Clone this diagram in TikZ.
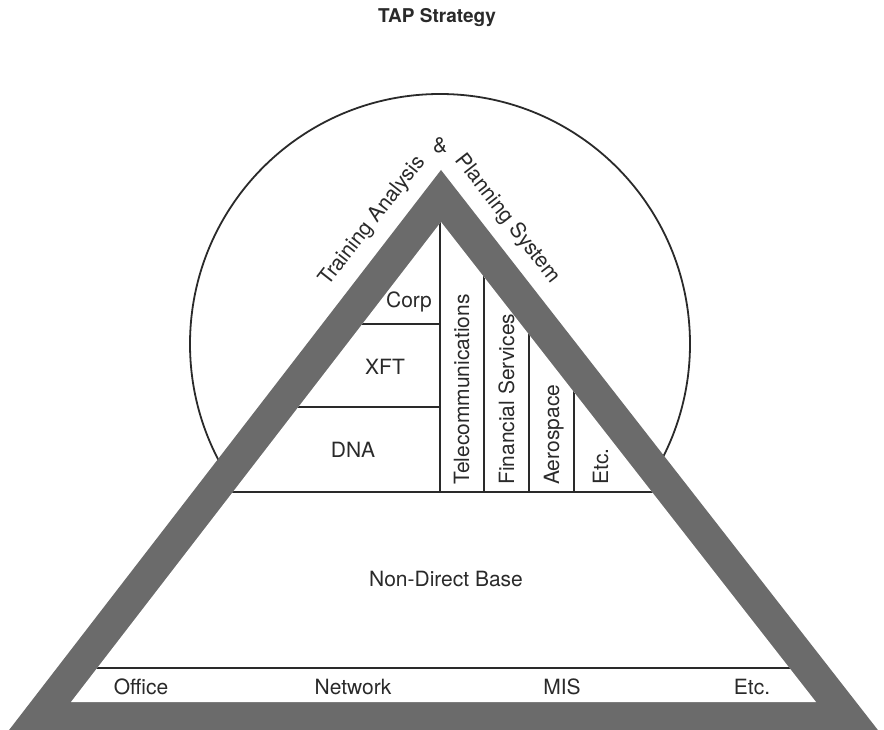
\documentclass[tikz,border=0pt]{standalone}
\usepackage{fontspec}
\setmainfont{TeX Gyre Heros}
\definecolor{band}{HTML}{6B6B6B}
\definecolor{ink}{HTML}{2A2A2A}
\begin{document}
\begin{tikzpicture}[x=1pt,y=-1pt,
  lbl/.style={text=ink, font=\fontsize{21}{25}\selectfont, inner sep=0pt, anchor=base},
  vlbl/.style={lbl, rotate=90, anchor=base west},
  rule/.style={draw=ink, line width=1.8pt},
  ring/.style={draw=ink, line width=1.8pt}]
\useasboundingbox (0,0) rectangle (884,730);
\clip (0,0) rectangle (884,730);
\fill[white] (0,0) rectangle (884,730);

% title
\node[lbl, font=\bfseries\fontsize{19}{23}\selectfont] (title) at (437,23) {TAP Strategy};

% background circle
\draw[ring] (440,344) circle[radius=250];

% pyramid: grey band and white interior
\coordinate (OA) at (441,170);
\coordinate (OL) at (6,734);
\coordinate (OR) at (881,734);
\coordinate (IA) at (441,222);
\coordinate (IL) at (71,702);
\coordinate (IR) at (816,702);
\fill[band] (OA) -- (OL) -- (OR) -- cycle;
\fill[white] (IA) -- (IL) -- (IR) -- cycle;

% partitions inside the pyramid
\begin{scope}
  \clip (IA) -- (IL) -- (IR) -- cycle;
  \draw[rule] (0,492) -- (884,492);
  \draw[rule] (0,668) -- (884,668);
  \draw[rule] (0,324) -- (441,324);
  \draw[rule] (0,407) -- (441,407);
  \draw[rule] (440,150) -- (440,492);
  \draw[rule] (484,150) -- (484,492);
  \draw[rule] (529,150) -- (529,492);
  \draw[rule] (574,150) -- (574,492);
\end{scope}

% labels along the sides
\node[lbl, rotate=52] (tal) at (377,224.5) {Training Analysis};
\node[lbl] (amp) at (440,153) {\&};
\node[lbl, rotate=-52] (pls) at (503,222) {Planning System};

% upper left blocks
\node[lbl] (corp) at (409,307) {Corp};
\node[lbl] (xft) at (385,374) {XFT};
\node[lbl] (dna) at (353,457) {DNA};

% industry columns
\node[vlbl] (tel) at (469,485) {Telecommunications};
\node[vlbl] (fin) at (514,485) {Financial Services};
\node[vlbl] (aer) at (559,485) {Aerospace};
\node[vlbl] (etc1) at (608,485) {Etc.};

% base
\node[lbl] (ndb) at (446,586) {Non-Direct Base};
\node[lbl] (off) at (141,694) {Office};
\node[lbl] (net) at (353,694) {Network};
\node[lbl] (mis) at (562,694) {MIS};
\node[lbl] (etc2) at (752,694) {Etc.};
\end{tikzpicture}
\end{document}
